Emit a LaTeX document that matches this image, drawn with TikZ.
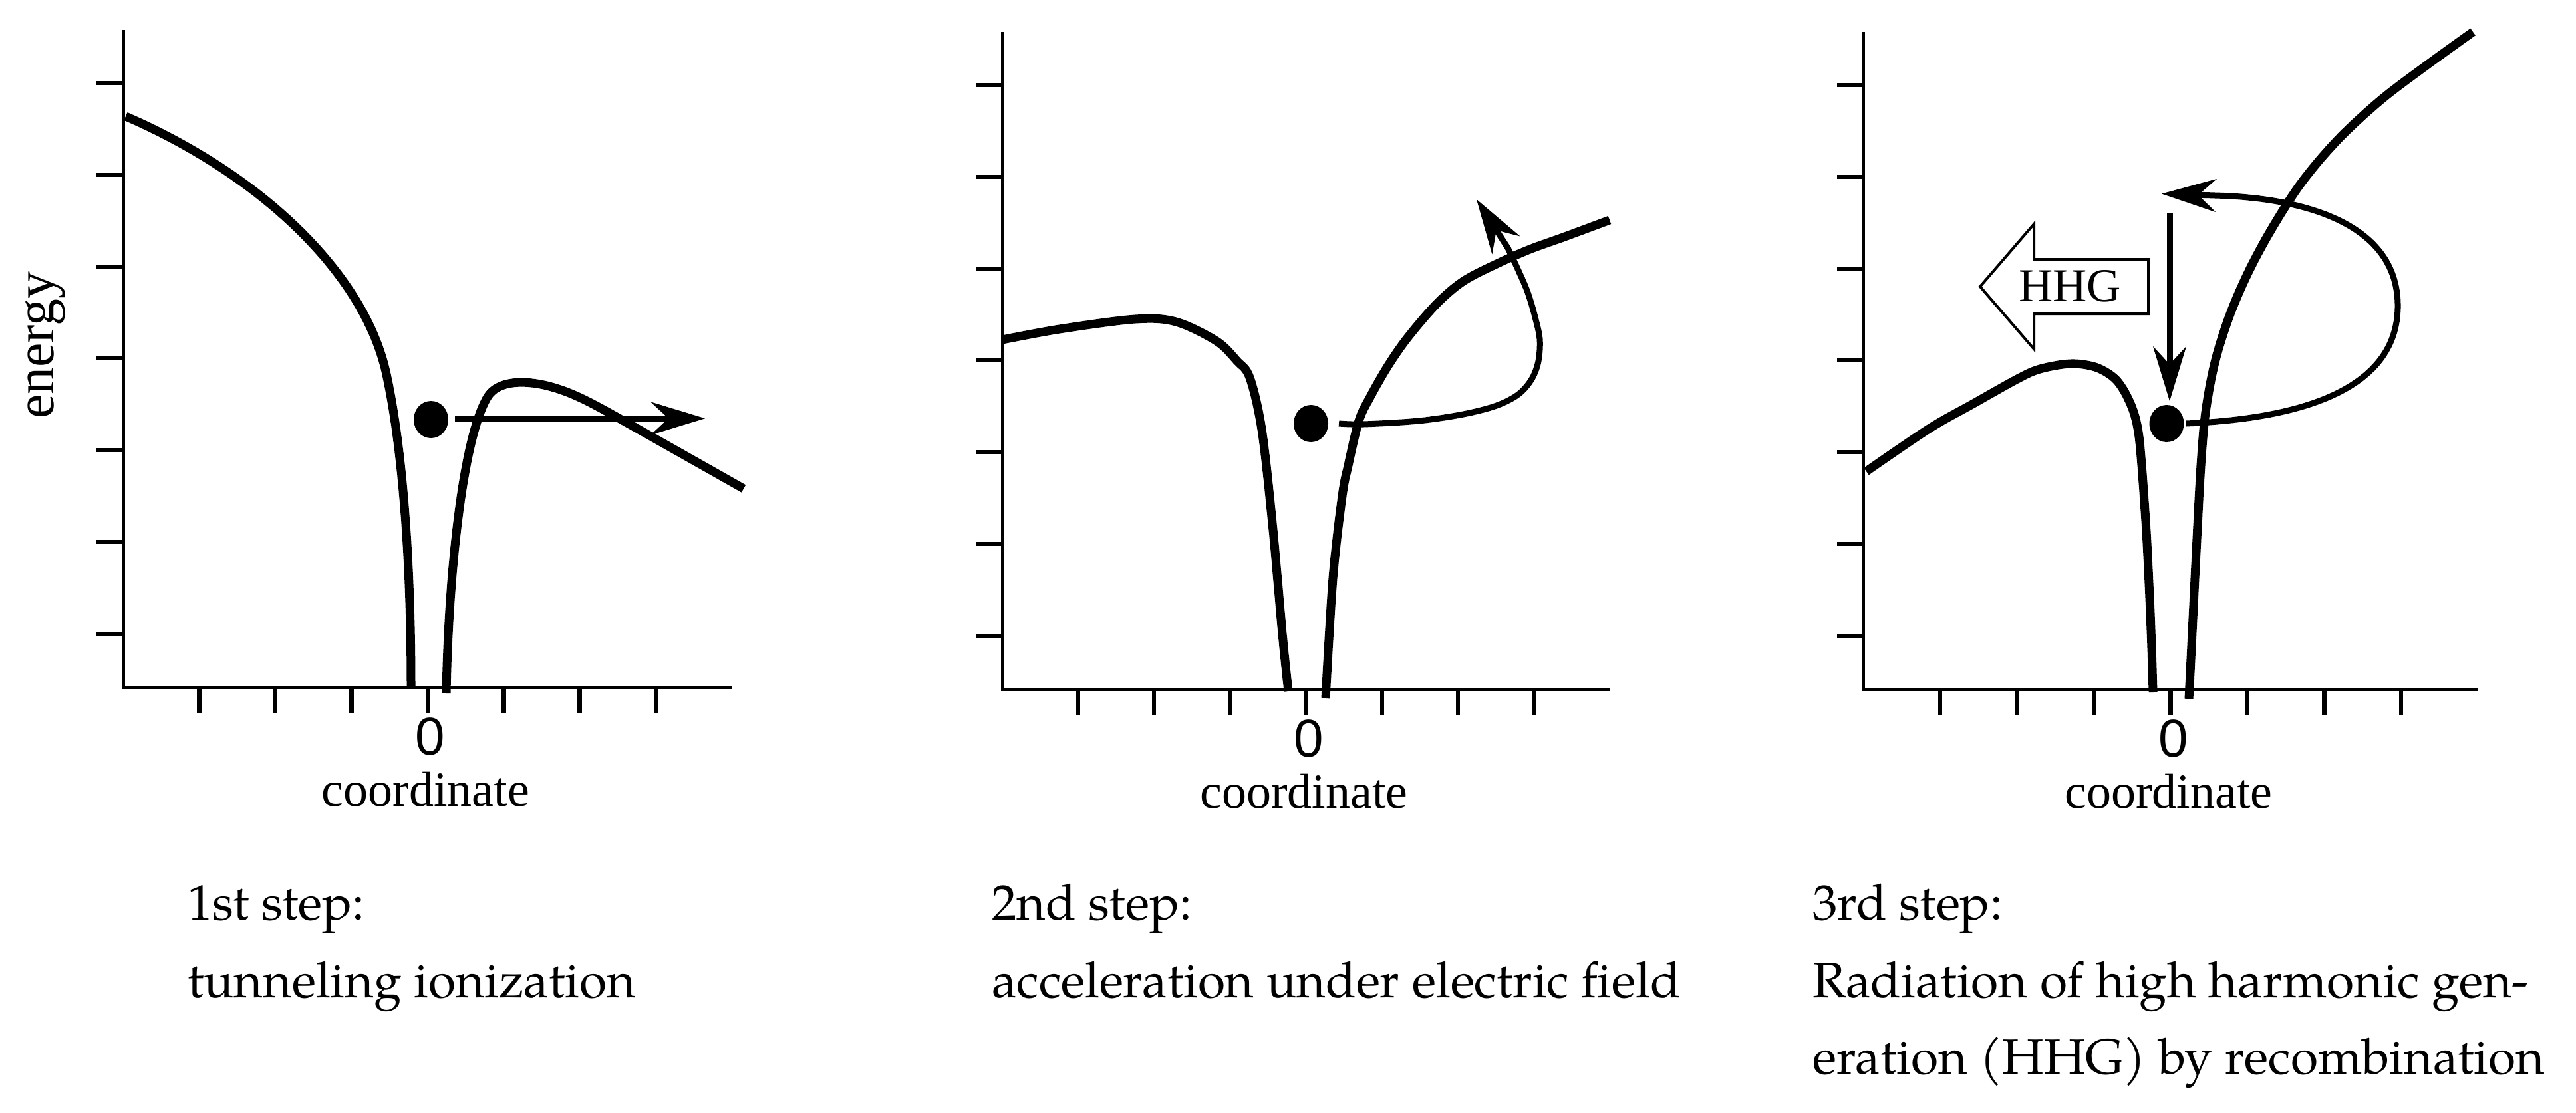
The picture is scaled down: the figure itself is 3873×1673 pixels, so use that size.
\documentclass[tikz,border=0pt]{standalone}
\usepackage{fontspec}
\setmainfont{Liberation Serif}
\newfontfamily\capfont{texgyrepagella-regular.otf}
\newfontfamily\zerofont{Liberation Sans}
\usetikzlibrary{arrows.meta,shapes.geometric}

\tikzset{
  axisline/.style={line width=4.5pt, line join=miter},
  tickmark/.style={line width=6.5pt},
  potential/.style={line width=13pt, line join=round},
  trajline/.style={line width=9pt, line join=round,
    -{Stealth[length=82pt,width=50pt,inset=27pt,line width=1pt]}},
  electron/.style={ellipse, fill=black, draw=none, inner sep=0pt,
    minimum width=52pt, minimum height=56pt},
  caption/.style={anchor=base west, inner sep=0pt,
    font=\capfont\fontsize{75}{90}\selectfont},
  axlabel/.style={anchor=base, inner sep=0pt, font=\fontsize{74}{88}\selectfont},
  zerolabel/.style={anchor=base, inner sep=0pt, font=\zerofont\fontsize{80}{96}\selectfont},
  hhgarrow/.style={draw, line width=4pt, fill=white, line join=miter},
  hhglabel/.style={anchor=base, inner sep=0pt, font=\fontsize{71}{85}\selectfont},
}

% #1 = origin x, #2 = origin y, #3 = tick spacing, #4 = name suffix
\newcommand{\panelaxes}[4]{%
  \draw[axisline] ({#1},{#2-989}) -- ({#1},{#2}) -- ({#1+8*#3},{#2});
  \foreach \k in {1,...,7} \draw[tickmark] ({#1+\k*#3},{#2}) -- ++(0,39);
  \foreach \k in {0,...,6} \draw[tickmark] ({#1},{#2-81-138*\k}) -- ++(-40,0);
  \node[zerolabel] (zero#4) at ({#1+4*#3+4},{#2+101}) {0};
  \node[axlabel] (coord#4) at ({#1+4*#3-3},{#2+178}) {coordinate};
}

\begin{document}
\begin{tikzpicture}[x=1pt, y=-1pt]
\useasboundingbox[fill=white] (0,0) rectangle (3873,1673);

% ---------------- panel 1 ----------------
\panelaxes{185.3}{1034}{114.4}{1}
\node[anchor=base, inner sep=0pt, rotate=90, font=\fontsize{82}{98}\selectfont]
  (energy) at (80,519) {energy};
\draw[potential] (189,175) .. controls (390,262) and (548,410) .. (581,563)
  .. controls (606,678) and (618,850) .. (618,1033);
\draw[potential] (671,1043) .. controls (674,870) and (695,660) .. (733,597)
  .. controls (748,572) and (790,570) .. (833,583)
  .. controls (870,594) and (900,612) .. (950,640) -- (1118,735);
\node[electron] (e1) at (648,631) {};
\draw[trajline] (684,629.3) -- (1060,629.3);

% ---------------- panel 2 ----------------
\panelaxes{1506.8}{1037}{114.2}{2}
\draw[potential] plot[smooth, tension=0.55] coordinates {
  (1507,511) (1593,495) (1707,480) (1768,484) (1829,513) (1860,543)
  (1879,568) (1897,646) (1913,787) (1928,953) (1937,1040)};
\draw[potential] plot[smooth, tension=0.55] coordinates {
  (1993,1050) (2004,870) (2018,746) (2027,700) (2043,633) (2060,597)
  (2087,550) (2117,507) (2160,457) (2200,423) (2250,397) (2300,375)
  (2350,357) (2420,331)};
\node[electron] (e2) at (1971,637) {};
\draw[trajline] plot[smooth, tension=0.55] coordinates {
  (2013,637) (2050,638) (2133,633) (2200,623) (2250,610) (2283,593)
  (2303,570) (2313,543) (2315,510) (2308,477) (2297,440) (2283,407)
  (2267,373)} -- (2220,300);

% ---------------- panel 3 ----------------
\panelaxes{2801.5}{1037}{115.5}{3}
\draw[potential] plot[smooth, tension=0.55] coordinates {
  (2806,709) (2900,645) (2967,607) (3033,570) (3067,555) (3113,547)
  (3150,552) (3177,567) (3193,587) (3207,617) (3215,650) (3220,700)
  (3227,800) (3232,900) (3235,975) (3237,1041)};
\draw[potential] plot[smooth, tension=0.55] coordinates {
  (3291,1051) (3297,930) (3303,810) (3309,700) (3316,620) (3330,545)
  (3352,475) (3380,410) (3415,345) (3460,275) (3515,210) (3580,150)
  (3650,97) (3718,48)};
\node[electron] (e3) at (3257.5,637) {};
\draw[trajline] (3287,637) .. controls (3450,630) and (3605,590) .. (3605,460)
  .. controls (3605,330) and (3450,297) .. (3330,294) -- (3250,291.5);
\draw[trajline] (3262,321) -- (3262,603);
\draw[hhgarrow] (2977,431) -- (3058,337) -- (3058,390) -- (3230,390)
  -- (3230,472) -- (3058,472) -- (3058,525) -- cycle;
\node[hhglabel] (hhg) at (3112,453) {HHG};

% ---------------- captions ----------------
\node[caption] (c1a) at (282,1383) {1st step:};
\node[caption] (c1b) at (282,1500) {tunneling ionization};
\node[caption] (c2a) at (1491,1383) {2nd step:};
\node[caption] (c2b) at (1491,1500) {acceleration under electric field};
\node[caption] (c3a) at (2725,1383) {3rd step:};
\node[caption] (c3b) at (2725,1500) {Radiation of high harmonic gen-};
\node[caption] (c3c) at (2725,1615) {eration (HHG) by recombination};
\end{tikzpicture}
\end{document}
